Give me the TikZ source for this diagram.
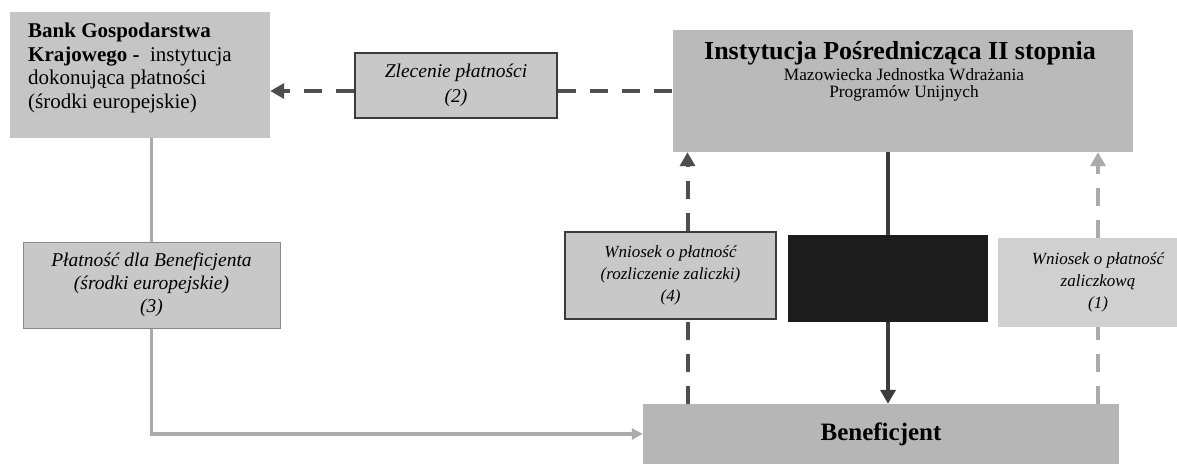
\documentclass[tikz,border=0pt]{standalone}
\usepackage{fontspec}
\setmainfont{Liberation Serif}
\usepackage{xcolor}
\usetikzlibrary{arrows.meta,positioning}

\definecolor{bankgray}{HTML}{C5C5C5}
\definecolor{boxgray}{HTML}{C8C8C8}
\definecolor{instgray}{HTML}{BABABA}
\definecolor{bengray}{HTML}{B6B6B6}
\definecolor{palegray}{HTML}{D0D0D0}
\definecolor{nearblack}{HTML}{1C1C1C}
\definecolor{linedark}{HTML}{3C3C3C}
\definecolor{dashdark}{HTML}{4E4E4E}
\definecolor{linelight}{HTML}{ABABAB}

\begin{document}
\begin{tikzpicture}[x=1pt, y=-1pt,
  plainbox/.style={rectangle, inner sep=0pt, align=center},
  flowbox/.style={plainbox, fill=boxgray, draw=linedark, line width=1.6pt},
  textlabel/.style={inner sep=0pt},
  solidline/.style={draw=linedark, line width=4pt},
  dashline/.style={draw=dashdark, line width=4pt, dash pattern=on 18pt off 14pt},
  lightdash/.style={draw=linelight, line width=3.5pt, dash pattern=on 18pt off 14pt},
  grayline/.style={draw=linelight, line width=3.5pt},
  tip/.style={-{Triangle[length=14pt,width=15pt]}}
]
  \useasboundingbox (0,0) rectangle (1177,464);
  \clip (0,0) rectangle (1177,464);
  \fill[white] (0,0) rectangle (1177,464);

  % Top row
  \node[plainbox, fill=bankgray, minimum width=260pt, minimum height=126pt] (bank) at (140,75) {};
  \node[textlabel, anchor=west, align=left, font=\fontsize{21}{23.5}\selectfont] (banktext) at (28,68)
    {\textbf{Bank Gospodarstwa}\\ \textbf{Krajowego -}\ \ instytucja\\ dokonująca płatności\\ (środki europejskie)};

  \node[flowbox, minimum width=202pt, minimum height=65pt, font=\itshape\fontsize{19.5}{25}\selectfont] (zlec) at (456,85.5)
    {Zlecenie płatności\\(2)};

  \node[plainbox, fill=instgray, minimum width=460pt, minimum height=122pt] (inst) at (903,91) {};
  \node[textlabel, font=\bfseries\fontsize{26}{30}\selectfont] (insttitle) at (900,53) {Instytucja Pośrednicząca II stopnia};
  \node[textlabel, align=center, font=\fontsize{17.3}{17.5}\selectfont] (instsub) at (904,85)
    {Mazowiecka Jednostka Wdrażania\\Programów Unijnych};

  % Middle row
  \node[flowbox, draw=linelight!80!black, line width=1pt, minimum width=257pt, minimum height=86pt,
    font=\itshape\fontsize{19.5}{23}\selectfont] (plat) at (151.5,285)
    {Płatność dla Beneficjenta\\(środki europejskie)\\(3)};

  \node[flowbox, minimum width=211pt, minimum height=87pt, font=\itshape\fontsize{17}{22}\selectfont] (wn4) at (670.5,275.5)
    {Wniosek o płatność\\(rozliczenie zaliczki)\\(4)};

  \node[plainbox, fill=nearblack, minimum width=200pt, minimum height=87pt] (blk) at (888,278.5) {};

  \node[plainbox, fill=palegray, minimum width=200pt, minimum height=89pt, font=\itshape\fontsize{17}{22}\selectfont] (wn1) at (1098,282.5)
    {Wniosek o płatność\\zaliczkową\\(1)};

  % Bottom row
  \node[plainbox, fill=bengray, minimum width=476pt, minimum height=60pt, font=\bfseries\fontsize{25}{30}\selectfont] (ben) at (881,434)
    {Beneficjent};

  % Connectors
  \coordinate (w4top) at ([xshift=17pt]wn4.north);
  \coordinate (w4bot) at ([xshift=17pt]wn4.south);

  \draw[dashline] (zlec.east |- inst.west) -- (inst.west);
  \draw[dashline, tip] (zlec.west |- inst.west) -- (bank.east |- inst.west);

  \draw[solidline] (blk.north |- inst.south) -- (blk.north);
  \draw[solidline, tip] (blk.south) -- (blk.south |- ben.north);

  \draw[dashline] (w4bot |- ben.north) -- (w4bot);
  \draw[dashline, tip] (w4top) -- (w4top |- inst.south);

  \draw[lightdash] (wn1.south |- ben.north) -- (wn1.south);
  \draw[lightdash, tip] (wn1.north) -- (wn1.north |- inst.south);

  \draw[grayline] (plat.north |- bank.south) -- (plat.north);
  \draw[grayline, -{Triangle[length=11pt,width=11pt]}] (plat.south) |- (ben.west);
\end{tikzpicture}
\end{document}
